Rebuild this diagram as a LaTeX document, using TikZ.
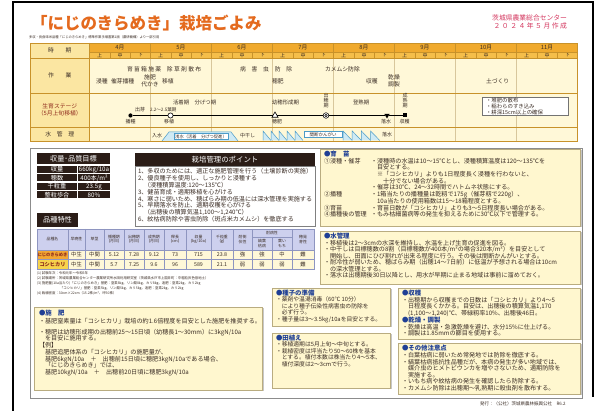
\documentclass[tikz,border=0pt]{standalone}
\usepackage{fontspec}
\setmainfont{Noto Sans CJK JP}
\usetikzlibrary{shapes.geometric}
\definecolor{hdr}{HTML}{F0AA2E}
\definecolor{hdr2}{HTML}{F5BE4A}
\definecolor{lab}{HTML}{FBE6A2}
\definecolor{cell}{HTML}{FFF8D8}
\definecolor{bord}{HTML}{C8922A}
\definecolor{monl}{HTML}{D8C79C}
\definecolor{ttl}{HTML}{E46A1E}
\definecolor{pinkc}{HTML}{D4365E}
\definecolor{dk}{HTML}{2B1D17}
\definecolor{navy}{HTML}{1F3F95}
\definecolor{boxf}{HTML}{FFF7CF}
\definecolor{boxb}{HTML}{B9AC80}
\definecolor{wat}{HTML}{CFEAF4}
\definecolor{watb}{HTML}{4C9CC8}
\definecolor{thd}{HTML}{CDD0EE}
\definecolor{tb}{HTML}{8E95C0}
\definecolor{orgc}{HTML}{F2A733}
\definecolor{yelc}{HTML}{F7D34C}
\definecolor{txt}{HTML}{3A2C24}
\definecolor{stg}{HTML}{8E2A1C}
\newcommand\infobx[4]{%
  \fill[black!22] (#1+1.5,#2+1.5) rectangle (#3+1.5,#4+1.5);
  \filldraw[fill=boxf,draw=boxb,line width=0.5pt] (#1,#2) rectangle (#3,#4);}
\begin{document}
\begin{tikzpicture}[x=1pt,y=-1pt,
  every node/.style={inner sep=0pt,outer sep=0pt},
  tx/.style={font=\fontsize{5.8}{5.8}\selectfont,text=txt},
  sm/.style={font=\fontsize{5}{5}\selectfont,text=txt},
  body/.style={font=\fontsize{6.1}{6.7}\selectfont,text=txt,align=left,anchor=north west},
  bodys/.style={font=\fontsize{5.8}{6.5}\selectfont,text=txt,align=left,anchor=north west},
  hd/.style={font=\fontsize{6.4}{6.4}\selectfont\bfseries,text=navy,anchor=north west},
  wtx/.style={text=white,font=\fontsize{6.2}{6.2}\selectfont},
  th/.style={font=\fontsize{3.9}{4.4}\selectfont,text=txt,align=center},
  tv/.style={font=\fontsize{5.3}{5.3}\selectfont,text=txt},
  stgline/.style={line width=1.2pt,black}
]
\useasboundingbox (0,0) rectangle (603,411);
\fill[white] (0,0) rectangle (603,411);
\draw[line width=1.3pt] (13,411) -- (13,2) -- (593,2) -- (593,397);

% title
\node[anchor=west,font=\fontsize{16.5}{16.5}\selectfont\bfseries,text=ttl] (title) at (31,23) {「にじのきらめき」栽培ごよみ};
\node[anchor=west,font=\fontsize{3.3}{3.3}\selectfont,text=txt] (sub) at (29,37.5) {多収・良食味米品種「にじのきらめき」標準作業手順書第1版（農研機構）より一部引用};
\node[anchor=east,font=\fontsize{6.8}{6.8}\selectfont,text=pinkc] (org1) at (567,18) {茨城県農業総合センター};
\node[anchor=east,font=\fontsize{6.8}{6.8}\selectfont,text=pinkc] (org2) at (567,25.8) {２ ０ ２ ４ 年 ５ 月 作 成};

% calendar table
\fill[lab] (30,43) rectangle (89.5,141);
\fill[cell] (89.5,58) rectangle (577.5,141);
\foreach \i in {0,...,7}{
  \pgfmathsetmacro\xa{89.5+61*\i}
  \pgfmathsetmacro\xb{\xa+61}
  \pgfmathtruncatemacro\mm{\i+4}
  \fill[hdr] (\xa,43) rectangle (\xb,52);
  \fill[hdr2] (\xa,52) rectangle (\xb,58);
  \node[tx] (mon\i) at ({\xa+30.5},47.7) {\mm 月};
  \node[sm] (ja\i) at ({\xa+10.17},55.2) {上};
  \node[sm] (jb\i) at ({\xa+30.5},55.2) {中};
  \node[sm] (jc\i) at ({\xa+50.83},55.2) {下};
  \draw[bord,line width=0.4pt] ({\xa+20.33},52) -- ({\xa+20.33},58) ({\xa+40.67},52) -- ({\xa+40.67},58);
  \draw[bord,line width=0.5pt] (\xa,43) -- (\xa,58);
  \draw[monl,line width=0.45pt] (\xa,58) -- (\xa,141);
}
\draw[bord,line width=0.5pt] (89.5,52) -- (577.5,52);
\draw[bord,line width=0.6pt] (30,58) -- (577.5,58) (30,93) -- (577.5,93) (30,127) -- (577.5,127);
\draw[bord,line width=0.6pt] (89.5,43) -- (89.5,141);
\draw[bord,line width=0.7pt] (30,43) rectangle (577.5,141);

\node[tx] (l1) at (59.75,50.5) {時　　期};
\node[tx] (l2) at (59.75,75.5) {作　　業};
\node[tx,text=stg,align=center,font=\fontsize{5.8}{6.6}\selectfont] (l3) at (59.75,110) {生育ステージ\\（5月上旬移植）};
\node[tx] (l4) at (59.75,134.3) {水　管　理};

% work row
\node[tx,anchor=west] (w1) at (127,69) {育 苗 箱 施 薬　除 草 剤 散 布};
\node[tx,anchor=west] (w2) at (240,69) {病　害　虫　防　除};
\node[tx,anchor=west] (w3) at (325,69) {カメムシ防除};
\node[tx,anchor=west] (w4) at (96,81) {浸種};
\node[tx,anchor=west] (w5) at (111,81) {催芽播種};
\node[tx] (w6) at (150,77.5) {施肥};
\node[tx] (w7) at (150,84.5) {代かき};
\node[tx,anchor=west] (w8) at (162,81) {移植};
\node[tx,anchor=west] (w9) at (272,81) {穂肥};
\node[tx,anchor=west] (w10) at (366,81) {収穫};
\node[tx] (w11) at (394,77.5) {乾燥};
\node[tx] (w12) at (394,84.5) {調製};
\node[tx,anchor=west] (w13) at (486,81) {土づくり};

% growth stage row
\node[circle,fill=black,minimum size=4.2pt] (mk1) at (130.5,115.5) {};
\node[circle,draw=black,fill=white,line width=0.6pt,minimum size=5.2pt] (mk2) at (170.5,115.5) {};
\node[regular polygon,regular polygon sides=3,draw=black,fill=white,line width=0.6pt,minimum size=7pt] (mk3) at (275,115.5) {};
\node[circle,draw=black,fill=white,line width=0.55pt,minimum size=5.6pt] (mk4) at (326,115.5) {};
\node[circle,draw=black,line width=0.5pt,minimum size=2.4pt] (mk4i) at (326,115.5) {};
\node[regular polygon,regular polygon sides=3,shape border rotate=180,fill=black,minimum size=6pt] (mk5) at (387,115.5) {};
\node[rectangle,fill=black,minimum size=4pt] (mk6) at (405,115.5) {};
\draw[stgline] (mk1) -- (mk2);
\draw[stgline] (mk2) -- (mk3);
\draw[stgline] (mk3) -- (mk4);
\draw[stgline] (mk4) -- (mk5);
\draw[stgline] (mk5) -- (mk6);
\node[tx,anchor=west,font=\fontsize{5}{5}\selectfont] (s1) at (135,109.3) {出芽};
\node[tx,anchor=west,font=\fontsize{4.6}{4.6}\selectfont] (s2) at (150,109.3) {2.2～2.5葉期};
\node[tx,anchor=west,font=\fontsize{5.4}{5.4}\selectfont] (s3) at (173,102.5) {活着期　分げつ期};
\node[tx,anchor=west,font=\fontsize{5.4}{5.4}\selectfont] (s4) at (272,102.5) {幼穂形成期};
\node[tx,align=center,font=\fontsize{5}{5.2}\selectfont] (s5) at (326,100.5) {出\\穂\\期};
\node[tx,anchor=west,font=\fontsize{5.4}{5.4}\selectfont] (s6) at (353,102.5) {登熟期};
\node[tx,align=center,font=\fontsize{5}{5.2}\selectfont] (s7) at (405,100.5) {成\\熟\\期};
\node[sm] (u1) at (130.5,122) {播種};
\node[sm] (u2) at (169,122) {移植};
\node[sm] (u3) at (277,122) {穂肥};
\node[sm] (u4) at (386,122) {落水};
\node[sm] (u5) at (404.5,122) {収穫};
\draw[black!55,fill=white,line width=0.5pt] (482,97) rectangle (568,115);
\node[font=\fontsize{5.4}{5.8}\selectfont,text=txt,align=left,anchor=north west] (soil) at (486,98.3) {・堆肥の散布\\・稲わらのすき込み\\・耕深15cm以上の確保};

% water row
\node[sm,anchor=west] (wa1) at (152,136) {入水};
\fill[wat] (162,141) -- (169,132) -- (231,132) -- (238,141) -- cycle;
\draw[watb,line width=0.5pt] (162,141) -- (169,132) -- (231,132) -- (238,141);
\node[draw=watb,fill=white,line width=0.4pt,inner sep=0.9pt,font=\fontsize{4.3}{4.3}\selectfont,text=txt] (asa) at (201,136.4) {浅水（活着　分げつ促進）};
\node[sm,anchor=west] (wa2) at (240,135.5) {中干し};
\foreach \k in {0,...,4}{
  \pgfmathsetmacro\ta{263+8*\k}
  \fill[wat] (\ta,131) -- ({\ta+8},140.5) -- (\ta,140.5) -- cycle;
  \draw[watb,line width=0.5pt] (\ta,140.5) -- (\ta,131) -- ({\ta+8},140.5);
}
\node[draw=watb,fill=white,line width=0.4pt,inner sep=1pt,minimum width=38pt,font=\fontsize{4.5}{4.5}\selectfont,text=txt] (kan) at (323,134.5) {間断かんがい};
\foreach \k in {0,...,3}{
  \pgfmathsetmacro\ta{343+9.2*\k}
  \fill[wat] (\ta,131) -- ({\ta+9.2},140.5) -- (\ta,140.5) -- cycle;
  \draw[watb,line width=0.5pt] (\ta,140.5) -- (\ta,131) -- ({\ta+9.2},140.5);
}
\node[sm,anchor=west] (wa3) at (382,134.5) {落水};

% lower panel
\draw[black!45,fill=white,line width=0.6pt] (30,148) rectangle (582,398);

% yield target
\fill[dk] (37,153) rectangle (110,164);
\node[wtx,font=\fontsize{7.2}{7.2}\selectfont] (yh) at (73.5,158.6) {収量･品質目標};
\foreach \lb/\ya [count=\c] in {収量/166, 穂数/174.5, 千粒重/183, 整粒歩合/191.5}{
  \fill[dk] (37,\ya) rectangle (77,{\ya+7});
  \fill[dk] (78,\ya) rectangle (110,{\ya+7});
  \node[wtx] (yl\c) at (57,{\ya+3.6}) {\lb};
}
\node[wtx] (yv1) at (94,169.6) {660kg/10a};
\node[wtx] (yv2) at (94,178.1) {400本/m²};
\node[wtx] (yv3) at (94,186.6) {23.5g};
\node[wtx] (yv4) at (94,195.1) {80\%};

% cultivation points
\fill[dk] (135,153) rectangle (315,166);
\node[wtx,font=\fontsize{7.4}{7.4}\selectfont] (ph) at (225,159.6) {栽培管理のポイント};
\draw[black!50,fill=white,line width=0.5pt] (135,166) rectangle (315,226);
\node[body,font=\fontsize{6.1}{6.85}\selectfont] (pts) at (138,168.5) {1、多収のためには、適正な施肥管理を行う（土壌診断の実施）\\2、優良種子を使用し、しっかりと浸種する\\　（浸種積算温度:120～135℃）\\3、健苗育成・適期移植を心がける\\4、寒さに弱いため、穂ばらみ期の低温には深水管理を実施する\\5、早期落水を防止、適期収穫を心がける\\　（出穂後の積算気温1,100～1,240℃）\\6、紋枯病防除や害虫防除（斑点米カメムシ）を徹底する};

% variety table
\fill[dk] (37,213) rectangle (78,227);
\node[wtx,font=\fontsize{7.2}{7.2}\selectfont] (vh) at (57.5,220.2) {品種特性};
\fill[thd] (37,229) rectangle (314,250);
\fill[cell] (68,250) rectangle (314,269);
\fill[orgc] (37,250) rectangle (68,259.5);
\fill[yelc] (37,259.5) rectangle (68,269);
\draw[tb,line width=0.4pt] (37,229) rectangle (314,269);
\draw[tb,line width=0.4pt] (37,250) -- (314,250) (37,259.5) -- (314,259.5) (252,237) -- (292,237);
\foreach \xx in {68,85,104,124,144,164,186,211,233,252,292}{\draw[tb,line width=0.4pt] (\xx,229) -- (\xx,269);}
\draw[tb,line width=0.4pt] (272,237) -- (272,269);
\node[th] (h1) at (52.5,239.5) {品種名};
\node[th] (h2) at (76.5,239.5) {早晩性};
\node[th] (h3) at (94.5,239.5) {草型};
\node[th] (h4) at (114,239.5) {播種期\\(月日)};
\node[th] (h5) at (134,239.5) {出穂期\\(月日)};
\node[th] (h6) at (154,239.5) {成熟期\\(月日)};
\node[th] (h7) at (175,239.5) {稈長\\(cm)};
\node[th] (h8) at (198.5,239.5) {収量\\(kg/10a)};
\node[th] (h9) at (222,239.5) {千粒重\\(g)};
\node[th] (h10) at (242.5,239.5) {耐倒\\伏性};
\node[th] (h11) at (272,233.2) {耐病性};
\node[th] (h12) at (262,243.6) {縞葉\\枯病};
\node[th] (h13) at (282,243.6) {葉い\\もち};
\node[th] (h14) at (303,239.5) {穂発\\芽性};
\node[tv,font=\fontsize{4.3}{4.3}\selectfont\bfseries,text=stg] (r1n) at (52.5,254.8) {にじのきらめき};
\node[tv,font=\fontsize{5.2}{5.2}\selectfont\bfseries,text=stg] (r2n) at (52.5,264.3) {コシヒカリ};
\foreach \xx/\v [count=\c] in {76.5/中生,94.5/中間,114/5.12,134/7.28,154/9.12,175/73,198.5/715,222/23.8,242.5/強,262/強,282/中,303/難}{
  \node[tv] (ra\c) at (\xx,254.8) {\v};
}
\foreach \xx/\v [count=\c] in {76.5/中生,94.5/中間,114/5.7,134/7.25,154/9.6,175/96,198.5/589,222/21.1,242.5/弱,262/弱,282/弱,303/難}{
  \node[tv] (rb\c) at (\xx,264.3) {\v};
}
\node[font=\fontsize{3.4}{5}\selectfont,text=txt,align=left,anchor=north west] (notes) at (37,271.5) {(1) 試験年次：令和元年～令和5年\\(2) 試験場所：茨城県農業総合センター農業研究所水田利用研究室（茨城県水戸市上国井町：中粗粒灰色低地土）\\(3) 施肥量(10a当たり)「にじのきらめき」基肥：窒素8kg、リン酸8kg、カリ8kg、追肥：窒素2kg、カリ2kg\\\hspace{23pt}「コシヒカリ」基肥：窒素5kg、リン酸5kg、カリ5kg、追肥：窒素2kg、カリ2kg\\(4) 栽植密度：30cm×22cm（15.2株/m²、坪50株）};

% fertilizer box
\infobx{34}{307}{262}{390}
\node[hd] (fh) at (39,310) {●施　肥};
\node[body] (f1) at (39,318.5) {・基肥窒素量は「コシヒカリ」栽培の約1.6倍程度を目安とした施肥を推奨する。};
\node[body] (f2) at (39,329) {・穂肥は幼穂形成期の出穂前25～15日頃（幼穂長1～30mm）に3kgN/10a\\　を目安に施用する。\\【例】\\　基肥追肥体系の「コシヒカリ」の施肥量が、\\　基肥6kgN/10a　＋　出穂前15日頃に穂肥3kgN/10aである場合、\\　「にじのきらめき」では、\\　基肥10kgN/10a　＋　出穂前20日頃に穂肥3kgN/10a};

% seed box
\infobx{272}{288}{390}{326}
\node[hd] (sh) at (276,290) {●種子の準備};
\node[bodys] (sd) at (276,297) {・薬剤や温湯消毒（60℃ 10分）\\　により種子伝染性病害虫の防除を\\　必ず行う。\\・種子量は3～3.5kg/10aを目安とする。};

% transplant box
\infobx{272}{333}{390}{388}
\node[hd] (th) at (276,335) {●田植え};
\node[bodys] (tp) at (276,342) {・移植適期は5月上旬～中旬とする。\\・栽植密度は坪当たり50～60株を基本\\　とする。植付本数は株当たり4～5本、\\　植付深度は2～3cmで行う。};

% nursery box
\infobx{320}{149}{580}{226}
\node[hd] (nh) at (324,151) {●育　苗};
\node[body] (na) at (324,158) {①浸種・催芽};
\node[body] (nb) at (324,191.5) {②播種};
\node[body] (nc) at (324,204.9) {③育苗};
\node[body] (nd) at (324,211.6) {④播種後の管理};
\node[body] (nt) at (371,158) {・浸種時の水温は10～15℃とし、浸種積算温度は120～135℃を\\　目安とする。\\　※「コシヒカリ」よりも1日程度長く浸種を行わないと、\\　　十分でない場合がある。\\・催芽は30℃、24～32時間でハトムネ状態にする。\\・1箱当たりの播種量は乾籾で175g（催芽籾で220g）、\\　10a当たりの使用箱数は15～18箱程度とする。\\・育苗日数が「コシヒカリ」よりも3～5日程度長い場合がある。\\・もみ枯細菌病等の発生を抑えるために30℃以下で管理する。};

% water management box
\infobx{320}{231}{580}{284}
\node[hd] (wh) at (324,233) {●水管理};
\node[body,font=\fontsize{6.1}{6.5}\selectfont] (wt) at (324,240) {・移植後は2～3cmの水深を維持し、水温を上げ生育の促進を図る。\\・中干しは目標穂数の8割（目標穂数が400本/m²の場合320本/m²）を目安として\\　開始し、田面にひび割れが出来る程度に行う。その後は間断かんがいとする。\\・耐冷性が弱いため、穂ばらみ期（出穂14～7日前）に低温が予想される場合は10cm\\　の深水管理とする。\\・落水は出穂期後30日以降とし、用水が早期に止まる地域は事前に溜めておく。};

% harvest box
\infobx{398}{288}{580}{339}
\node[hd] (hh) at (402,290) {●収穫};
\node[body,font=\fontsize{6.1}{6.5}\selectfont] (ht) at (402,297) {・出穂期から収穫までの日数は「コシヒカリ」より4～5\\　日程度長くかかる。目安は、出穂後の積算気温1,170\\　(1,100～1,240)℃、帯緑籾率10\%、出穂後46日。};
\node[hd] (dh) at (402,317) {●乾燥・調製};
\node[body,font=\fontsize{6.1}{6.5}\selectfont] (dt) at (402,324) {・乾燥は高温・急激乾燥を避け、水分15\%に仕上げる。\\・調製は1.85mmの篩目を使用する。};

% other notes box
\infobx{398}{343}{580}{394}
\node[hd] (oh) at (402,345) {●その他注意点};
\node[body,font=\fontsize{6.1}{6.5}\selectfont] (ot) at (402,352.5) {・白葉枯病に弱いため常発地では防除を徹底する。\\・縞葉枯病抵抗性品種だが、本病の発生が多い地域では、\\　媒介虫のヒメトビウンカを増やさないため、適期防除を\\　実施する。\\・いもち病や紋枯病の発生を確認したら防除する。\\・カメムシ防除は出穂期～乳熟期に殺虫剤を散布する。};

\node[anchor=west,font=\fontsize{4.5}{4.5}\selectfont,text=txt] (foot) at (480,404) {発行：（公社）茨城県農林振興公社　R6.2};
\end{tikzpicture}
\end{document}
